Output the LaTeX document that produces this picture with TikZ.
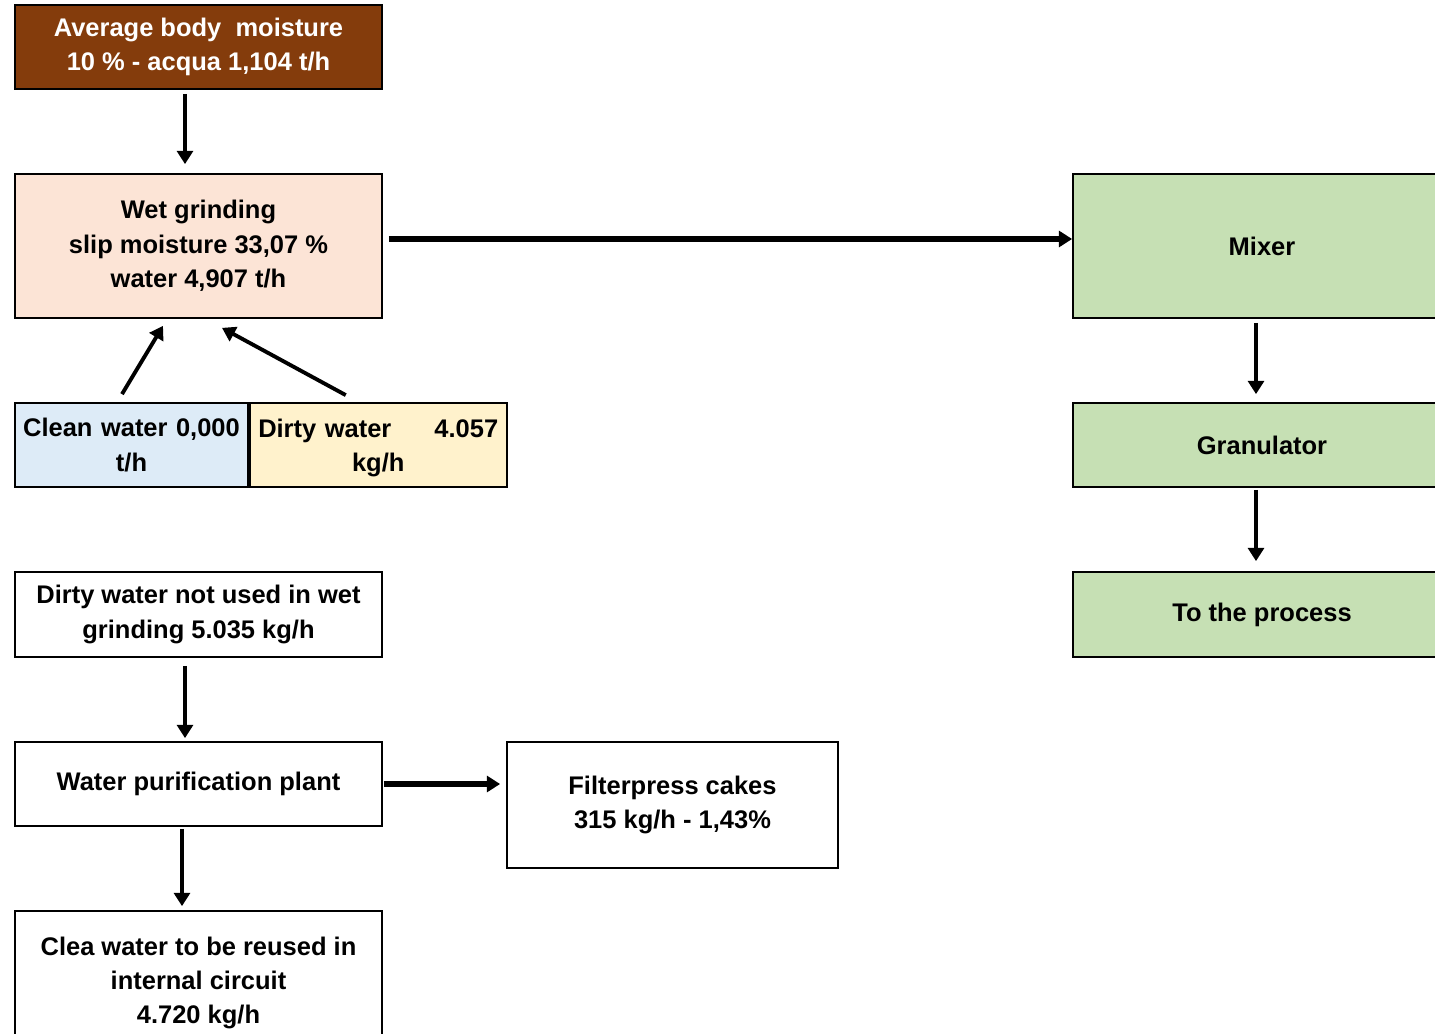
\documentclass[tikz,border=0pt]{standalone}
\usepackage{fontspec}
\setmainfont{Liberation Sans}
\usepackage{tikz}
\usetikzlibrary{positioning,arrows.meta}
\definecolor{marron}{RGB}{132,60,12}
\definecolor{salmon}{RGB}{252,228,214}
\definecolor{celeste}{RGB}{221,235,247}
\definecolor{crema}{RGB}{255,242,204}
\definecolor{verde}{RGB}{198,224,180}

\begin{document}
\begin{tikzpicture}[
  caja/.style={draw=black, fill=#1, line width=1pt, font=\fontsize{14.5}{19.5}\selectfont\bfseries,
    minimum width=7.34cm, minimum height=1.68cm, align=center, inner sep=2pt},
  caja/.default=white,
  flecha/.style={line width=#1, draw=black, -{Triangle[width=9pt,length=7.5pt]}},
  flecha/.default=2.2pt,
]
  \useasboundingbox (0,0) rectangle (28.7,-20.68);
  % ---- Molienda (izquierda arriba) ----
  \node[caja=marron, text=white] (hum) at (3.97,-0.94)
    {Average body\ \ moisture\\ 10 \% - acqua 1,104 t/h};
  \node[caja=salmon, minimum height=2.88cm] (mol) at (3.97,-4.92)
    {Wet grinding\\ slip moisture 33,07 \%\\ water 4,907 t/h};
  \node[caja=celeste, minimum width=4.66cm, text width=4.5cm] (limpia) at (2.63,-8.9)
    {Clean water 0,000\\ t/h};
  \node[caja=crema, minimum width=5.14cm, text width=4.8cm, right=0pt of limpia] (sucia)
    {\makebox[\linewidth]{\strut Dirty water\hfill 4.057}\\ kg/h};
  % ---- Depuracion (izquierda abajo) ----
  \node[caja, minimum height=1.7cm] (nouso) at (3.97,-12.29)
    {Dirty water not used in wet\\ grinding 5.035 kg/h};
  \node[caja] (dep) at (3.97,-15.68) {Water purification plant};
  \node[caja, minimum width=6.62cm, minimum height=2.52cm] (filtro) at (13.45,-16.1)
    {Filterpress cakes\\ 315 kg/h - 1,43\%};
  \node[caja, minimum height=2.88cm] (reuso) at (3.97,-19.66)
    {Clea water to be reused in\\ internal circuit\\ 4.720 kg/h};
  % ---- Proceso (derecha) ----
  \node[caja=verde, minimum width=7.56cm, minimum height=2.88cm] (mezcla) at (25.24,-4.92) {Mixer};
  \node[caja=verde, minimum width=7.56cm] (gran) at (25.24,-8.9) {Granulator};
  \node[caja=verde, minimum width=7.56cm, minimum height=1.7cm] (proc) at (25.24,-12.29) {To the process};
  % ---- Flujos ----
  \draw[flecha] ([xshift=-0.27cm,yshift=-0.08cm]hum.south) -- ([xshift=-0.27cm,yshift=0.18cm]mol.north);
  \draw[flecha=3.2pt] ([xshift=0.12cm,yshift=0.14cm]mol.east) -- ([yshift=0.14cm]mezcla.west);
  \draw[flecha] ([xshift=-0.19cm,yshift=0.16cm]limpia.north) -- ([xshift=-0.71cm,yshift=-0.14cm]mol.south);
  \draw[flecha] ([xshift=-0.65cm,yshift=0.14cm]sucia.north) -- ([xshift=0.47cm,yshift=-0.18cm]mol.south);
  \draw[flecha] ([xshift=-0.12cm,yshift=-0.08cm]mezcla.south) -- ([xshift=-0.12cm,yshift=0.16cm]gran.north);
  \draw[flecha] ([xshift=-0.12cm,yshift=-0.04cm]gran.south) -- ([xshift=-0.12cm,yshift=0.2cm]proc.north);
  \draw[flecha] ([xshift=-0.27cm,yshift=-0.16cm]nouso.south) -- ([xshift=-0.27cm,yshift=0.06cm]dep.north);
  \draw[flecha=3.4pt] ([xshift=0.02cm]dep.east) -- ([xshift=-0.12cm]filtro.west |- dep.east);
  \draw[flecha] ([xshift=-0.33cm,yshift=-0.04cm]dep.south) -- ([xshift=-0.33cm,yshift=0.08cm]reuso.north);
\end{tikzpicture}
\end{document}
